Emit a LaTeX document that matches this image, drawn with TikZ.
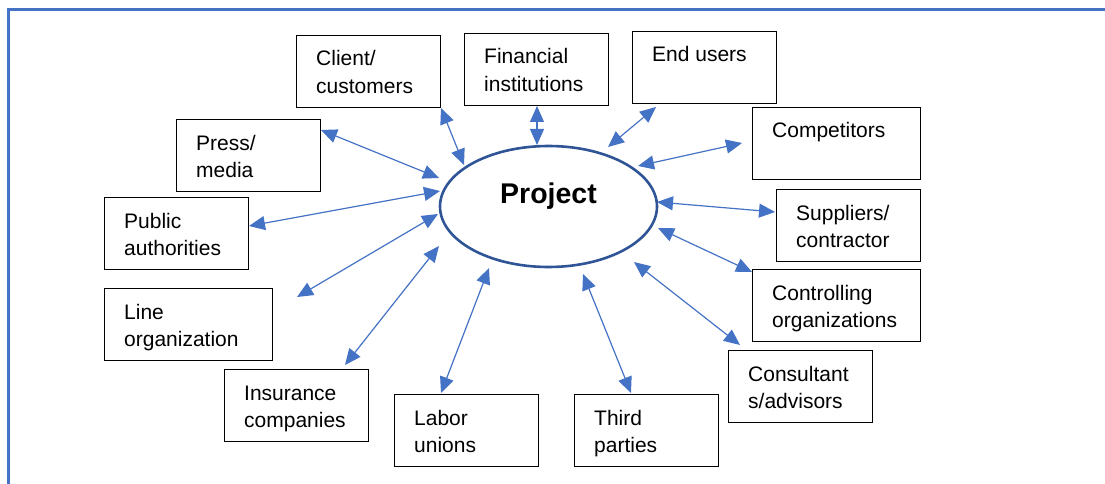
\documentclass[tikz,border=0pt]{standalone}
\usepackage{fontspec}
\setmainfont{Liberation Sans}
\usetikzlibrary{arrows.meta,shapes.geometric}
\definecolor{linkblue}{HTML}{4472C4}
\definecolor{rimblue}{HTML}{2F5597}
\begin{document}
\begin{tikzpicture}[x=1pt,y=-1pt,
  stakebox/.style={draw=black, line width=1.3pt, rectangle, anchor=north west,
    minimum width=144pt, minimum height=72pt, inner sep=0pt},
  widebox/.style={stakebox, minimum width=168pt},
  % one-line label: base of the line 31pt below the box top
  stakelabel/.style={anchor=base west, align=left, inner sep=0pt,
    font=\fontsize{21}{27.5}\selectfont, xshift=20pt, yshift=-31pt},
  % two-line label: the base anchor sits on the second line (shifts add up)
  stakelabelii/.style={stakelabel, yshift=-27.5pt},
  link/.style={draw=linkblue, line width=1.2pt,
    {Triangle[length=16pt,width=14pt]}-{Triangle[length=16pt,width=14pt]}}]
\useasboundingbox (0,0) rectangle (1105,484);
% page frame
\draw[linkblue, line width=3pt] (8,490) -- (8,10) -- (1110,10);

% central project
\node[draw=rimblue, line width=2.6pt, ellipse, minimum width=217pt, minimum height=121pt,
  font=\bfseries\fontsize{28.5}{30}\selectfont, text height=21pt, text depth=28pt]
  (proj) at (548.5,206.5) {Project};

% stakeholder boxes
\node[stakebox] (client) at (296,35) {};
\node[stakelabelii] at (client.north west) {Client/\\customers};
\node[stakebox] (fin) at (464,33) {};
\node[stakelabelii] at (fin.north west) {Financial\\institutions};
\node[stakebox] (endu) at (632,31) {};
\node[stakelabel] at (endu.north west) {End users};
\node[widebox] (comp) at (752,107) {};
\node[stakelabel] at (comp.north west) {Competitors};
\node[stakebox] (press) at (176,119) {};
\node[stakelabelii] at (press.north west) {Press/\\media};
\node[stakebox] (pub) at (104,197) {};
\node[stakelabelii] at (pub.north west) {Public\\authorities};
\node[stakebox] (supp) at (776,189) {};
\node[stakelabelii] at (supp.north west) {Suppliers/\\contractor};
\node[widebox] (ctrl) at (752,269) {};
\node[stakelabelii] at (ctrl.north west) {Controlling\\organizations};
\node[widebox] (lineorg) at (104,288) {};
\node[stakelabelii] at (lineorg.north west) {Line\\organization};
\node[stakebox] (cons) at (728,350) {};
\node[stakelabelii] at (cons.north west) {Consultant\\s/advisors};
\node[stakebox] (ins) at (224,369) {};
\node[stakelabelii] at (ins.north west) {Insurance\\companies};
\node[stakebox] (labor) at (394,394) {};
\node[stakelabelii] at (labor.north west) {Labor\\unions};
\node[stakebox] (third) at (574,394) {};
\node[stakelabelii] at (third.north west) {Third\\parties};

% connector end points
\coordinate (cA) at (441,108);  \coordinate (cB) at (464,165);
\coordinate (fA) at (537,106);  \coordinate (fB) at (537,145);
\coordinate (eA) at (656,107);  \coordinate (eB) at (608,147);
\coordinate (kA) at (742,143);  \coordinate (kB) at (638,166);
\coordinate (pA) at (321,130);  \coordinate (pB) at (439,178);
\coordinate (aA) at (249,226);  \coordinate (aB) at (440,191);
\coordinate (lA) at (297,297);  \coordinate (lB) at (438,214);
\coordinate (iA) at (345,365);  \coordinate (iB) at (439,246);
\coordinate (uA) at (441,393);  \coordinate (uB) at (489,268);
\coordinate (tA) at (631,393);  \coordinate (tB) at (583,274);
\coordinate (nA) at (740,345);  \coordinate (nB) at (634,262);
\coordinate (gA) at (752,272);  \coordinate (gB) at (658,228);
\coordinate (sA) at (775,212);  \coordinate (sB) at (657,202);

% two-way links
\draw[link] (cA) -- (cB);
\draw[link] (fA) -- (fB);
\draw[link] (eA) -- (eB);
\draw[link] (kA) -- (kB);
\draw[link] (pA) -- (pB);
\draw[link] (aA) -- (aB);
\draw[link] (lA) -- (lB);
\draw[link] (iA) -- (iB);
\draw[link] (uA) -- (uB);
\draw[link] (tA) -- (tB);
\draw[link] (nA) -- (nB);
\draw[link] (gA) -- (gB);
\draw[link] (sA) -- (sB);
\end{tikzpicture}
\end{document}
